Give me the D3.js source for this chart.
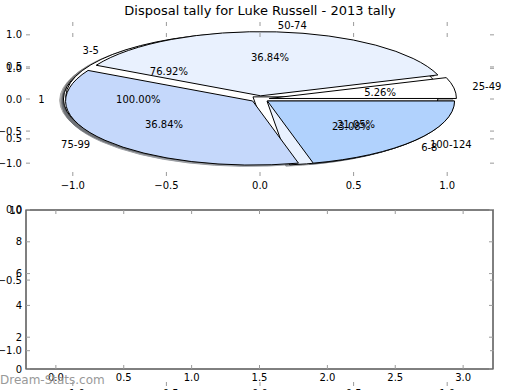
<!DOCTYPE html>
<html>
<head>
<meta charset="utf-8">
<script src="https://cdn.jsdelivr.net/npm/d3@7"></script>
<style>
  body { margin: 0; background: #fff; }
  svg { font-family: "DejaVu Sans", sans-serif; }
</style>
</head>
<body>
<div id="chart"></div>
<script>
// three pies drawn on top of each other, same axes
const singleLabels = ["1"];
const singleCounts = [1];
const shortLabels = ["3-5", "6-8"];
const shortCounts = [10, 3];
const rangeLabels = ["25-49", "50-74", "75-99", "100-124"];
const rangeCounts = [1, 7, 7, 4];
const wedgeColors = ["#ffffff", "#e9f1fe", "#c5d8fb", "#b1d2fd"];
const explode = 0.05;

const pieTicks = [-1, -0.5, 0, 0.5, 1];
const barXTicks = [0, 0.5, 1, 1.5, 2, 2.5, 3];
const barYTicks = [0, 2, 4, 6, 8, 10];

const W = 520, H = 390;
const svg = d3.select("#chart").append("svg")
    .attr("width", W).attr("height", H);

const tickColor = "#9a9a9a";

// draw inward ticks + labels for an axes box
function drawTicks(g, x, y, xt, yt, opts) {
    const [x0, x1] = x.range(), [y1, y0] = y.range();
    xt.forEach(t => {
        if (opts.top) g.append("line").attr("x1", x(t)).attr("x2", x(t)).attr("y1", y0).attr("y2", y0 + 4).attr("stroke", tickColor);
        g.append("line").attr("x1", x(t)).attr("x2", x(t)).attr("y1", y1).attr("y2", y1 - 4).attr("stroke", tickColor);
        g.append("text").attr("x", x(t)).attr("y", y1 + opts.xpad)
            .attr("text-anchor", "middle").attr("dy", "0.76em")
            .style("font-size", "10px").text(d3.format(".1f")(t).replace("-", "\u2212"));
    });
    yt.forEach(t => {
        g.append("line").attr("x1", x0).attr("x2", x0 + 4).attr("y1", y(t)).attr("y2", y(t)).attr("stroke", tickColor);
        g.append("line").attr("x1", x1).attr("x2", x1 - 4).attr("y1", y(t)).attr("y2", y(t)).attr("stroke", tickColor);
        g.append("text").attr("x", x0 - 4).attr("y", y(t))
            .attr("text-anchor", "end").attr("dy", "0.35em")
            .style("font-size", "10px").text(opts.yfmt(t).replace("-", "\u2212"));
    });
}

// ---------- pie axes ----------
const px = d3.scaleLinear().domain([-1.25, 1.25]).range([26, 494]);
const py = d3.scaleLinear().domain([-1.2, 1.2]).range([176, 22]);
const sx = px(1) - px(0), sy = py(0) - py(1);

const pieG = svg.append("g");
const shadowLayer = pieG.append("g");
const wedgeLayer = pieG.append("g");
const textLayer = pieG.append("g");

const arc = d3.arc().innerRadius(0).outerRadius(1);
const rad = Math.PI / 180;

function drawPie(labels, counts) {
    const total = d3.sum(counts);
    let start = 0;
    counts.forEach((c, i) => {
        const span = c / total * 360;
        const t1 = start, t2 = start + span, tm = (t1 + t2) / 2;
        start = t2;
        const ox = explode * Math.cos(tm * rad), oy = explode * Math.sin(tm * rad);
        const col = d3.color(wedgeColors[i % wedgeColors.length]);
        const a = { startAngle: (90 - t2) * rad, endAngle: (90 - t1) * rad };
        const shade = d3.rgb(col.r * 0.3, col.g * 0.3, col.b * 0.3);
        shadowLayer.append("g")
            .attr("transform", `translate(${px(ox - 0.02)},${py(oy - 0.02)}) scale(${sx},${sy})`)
            .append("path").attr("d", arc(a))
            .attr("fill", shade).attr("stroke", shade).attr("opacity", 0.5)
            .attr("vector-effect", "non-scaling-stroke");
        wedgeLayer.append("g")
            .attr("transform", `translate(${px(ox)},${py(oy)}) scale(${sx},${sy})`)
            .append("path").attr("d", arc(a))
            .attr("fill", col).attr("stroke", "#000").attr("stroke-width", 1)
            .attr("vector-effect", "non-scaling-stroke");
        const lx = (explode + 1.1) * Math.cos(tm * rad), ly = (explode + 1.1) * Math.sin(tm * rad);
        textLayer.append("text").attr("x", px(lx)).attr("y", py(ly))
            .attr("text-anchor", lx < 0 ? "end" : "start").attr("dy", "0.35em")
            .style("font-size", "10px").text(labels[i]);
        const ax = (explode + 0.6) * Math.cos(tm * rad), ay = (explode + 0.6) * Math.sin(tm * rad);
        textLayer.append("text").attr("x", px(ax)).attr("y", py(ay))
            .attr("text-anchor", "middle").attr("dy", "0.35em")
            .style("font-size", "10px").text(d3.format(".2f")(c / total * 100) + "%");
    });
}
drawPie(singleLabels, singleCounts);
drawPie(shortLabels, shortCounts);
drawPie(rangeLabels, rangeCounts);

drawTicks(svg.append("g"), px, py, pieTicks, pieTicks, { top: true, xpad: 5, yfmt: d3.format(".1f") });

svg.append("text").attr("x", 260).attr("y", 10).attr("dy", "0.35em")
    .attr("text-anchor", "middle").style("font-size", "13px")
    .text("Disposal tally for Luke Russell - 2013 tally");

// ---------- empty lower axes ----------
const bx = d3.scaleLinear().domain([-0.22, 3.22]).range([26, 493]);
const by = d3.scaleLinear().domain([0, 10]).range([369, 210]);
const barG = svg.append("g");
barG.append("rect").attr("x", bx(-0.22)).attr("y", by(10))
    .attr("width", bx(3.22) - bx(-0.22)).attr("height", by(0) - by(10))
    .attr("fill", "none").attr("stroke", "#000").attr("stroke-width", 1);
drawTicks(barG, bx, by, barXTicks, barYTicks, { top: true, xpad: 4, yfmt: d3.format("d") });

// ---------- hidden full-figure axes ----------
const fx = d3.scaleLinear().domain([-1.25, 1.25]).range([26, 494]);
const fy = d3.scaleLinear().domain([-1.25, 1.25]).range([386, 33]);
drawTicks(svg.append("g"), fx, fy, pieTicks, pieTicks, { top: true, xpad: 3, yfmt: d3.format(".1f") });

// watermark
svg.append("text").attr("x", 0).attr("y", 380).attr("dy", "0.35em")
    .style("font-size", "12px")
    .attr("fill", "#999999")
    .text("Dream-Stats.com");
</script>
</body>
</html>
